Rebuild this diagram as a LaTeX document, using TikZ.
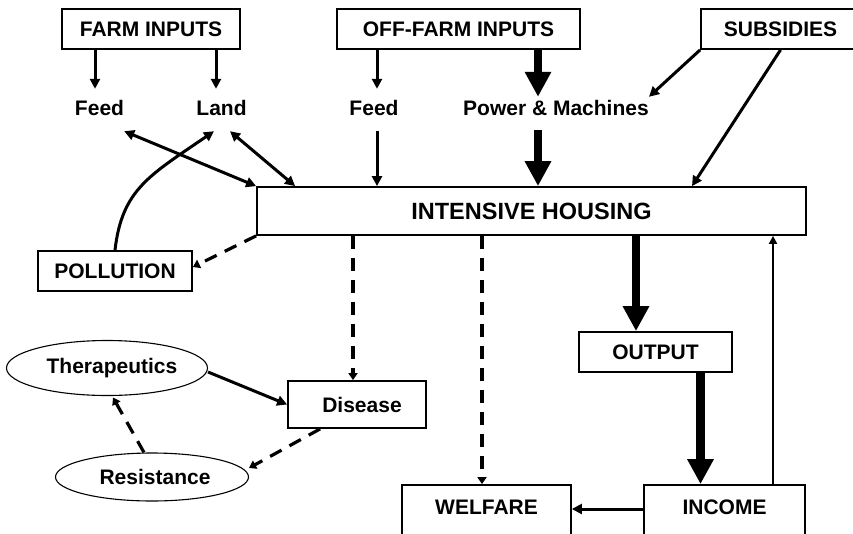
\documentclass[tikz,border=0pt]{standalone}
\usepackage{fontspec}
\setmainfont{Liberation Sans}
\usetikzlibrary{arrows.meta,shapes.geometric}
\begin{document}
\begin{tikzpicture}[x=1pt,y=-1pt,
  tx/.style={font=\fontsize{21}{25}\selectfont\bfseries},
  box/.style={tx,draw,line width=1.8pt,rectangle,inner sep=0pt},
  lbl/.style={tx,inner sep=0pt,text height=26.5pt,text depth=15.5pt},
  lblp/.style={tx,inner sep=0pt,text height=18.5pt,text depth=14.5pt},
  oval/.style={tx,draw,ellipse,line width=1.1pt,inner sep=0pt},
  arr/.style={line width=3pt,-{Triangle[length=10pt,width=10pt]}},
  dbl/.style={line width=3pt,{Triangle[length=10pt,width=10pt]}-{Triangle[length=10pt,width=10pt]}},
  thinarr/.style={line width=2.1pt,-{Triangle[length=8pt,width=8pt]}},
  dasharr/.style={line width=3.2pt,dash pattern=on 13pt off 9pt,-{Triangle[length=7pt,width=9pt]}},
  bigarr/.style={line width=8.5pt,-{Triangle[length=25pt,width=25pt]}},
]
\useasboundingbox (0,0) rectangle (853,533);
\clip (0,0) rectangle (853,533);

% boxes
\node[box,minimum width=178pt,minimum height=40pt] (farm) at (151,29) {FARM INPUTS};
\node[box,minimum width=243pt,minimum height=40pt] (offfarm) at (458.5,29) {OFF-FARM INPUTS};
\node[box,minimum width=159pt,minimum height=40pt] (subs) at (780.5,29) {SUBSIDIES};
\node[box,minimum width=549pt,minimum height=48pt,font=\fontsize{23.5}{27}\selectfont\bfseries] (ih) at (531.5,211) {INTENSIVE HOUSING};
\node[box,minimum width=154pt,minimum height=40pt] (poll) at (115,271) {POLLUTION};
\node[box,minimum width=138pt,minimum height=47pt] (dis) at (357,404.5) {\hspace*{10pt}Disease};
\node[box,minimum width=153pt,minimum height=40pt] (out) at (655.5,352) {OUTPUT};
\node[box,minimum width=169pt,minimum height=52pt,text depth=8pt] (wel) at (486.5,511) {WELFARE};
\node[box,minimum width=161pt,minimum height=52pt,text depth=8pt] (inc) at (724.5,511) {INCOME};

% ellipses
\node[oval,minimum width=201pt,minimum height=55pt] (ther) at (107,368) {\hspace*{10pt}Therapeutics};
\node[oval,minimum width=193pt,minimum height=48pt] (res) at (152,477) {\hspace*{6pt}Resistance};

% labels
\node[lbl] (feedA) at (99.5,110) {Feed};
\node[lbl] (land) at (221.5,110) {Land};
\node[lbl] (feedB) at (374,110) {Feed};
\node[lblp] (pm) at (556,113.5) {Power \& Machines};

% helper coordinates
\coordinate (fA) at ([xshift=-4.5pt]feedA.north);
\coordinate (lA) at ([xshift=-5.5pt]land.north);
\coordinate (fB) at ([xshift=3pt]feedB.north);
\coordinate (fBs) at ([xshift=3pt]feedB.south);
\coordinate (pmN) at ([xshift=-18pt]pm.north);
\coordinate (pmS) at ([xshift=-18pt]pm.south);
\coordinate (subIH) at ([xshift=160.5pt]ih.north);
\coordinate (disT) at ([xshift=-4pt]dis.north);
\coordinate (welT) at ([xshift=-4.5pt]wel.north);
\coordinate (outT) at ([xshift=-19.5pt]out.north);
\coordinate (outB) at ([xshift=45pt]out.south);
\coordinate (incU) at ([xshift=48.5pt]inc.north);

% top arrows
\draw[arr] (farm.south -| fA) -- (fA);
\draw[arr] (farm.south -| lA) -- (lA);
\draw[arr] (offfarm.south -| fB) -- (fB);
\draw[bigarr] (offfarm.south -| pmN) -- (pmN);
\draw[arr] (subs.south west) -- (pm.north east);

% into intensive housing
\draw[dbl] (feedA.south east) -- (ih.north west);
\draw[dbl] ([xshift=8.5pt]land.south) -- ([xshift=39pt]ih.north west);
\draw[arr] (fBs) -- (fBs |- ih.north);
\draw[bigarr] (pmS) -- (pmS |- ih.north);
\draw[arr] (subs.south) -- (subIH);
\draw[arr] (poll.north) .. controls +(7,-61) and +(-64,44) .. ([xshift=-7.5pt]land.south);

% from intensive housing
\draw[dasharr] (ih.south west) -- ([yshift=4pt]poll.east);
\draw[dasharr] (disT |- ih.south) -- (disT);
\draw[dasharr] (welT |- ih.south) -- (welT);
\draw[bigarr] (outT |- ih.south) -- (outT);
\draw[bigarr] (outB) -- (outB |- inc.north);
\draw[thinarr] (incU) -- (incU |- ih.south);
\draw[arr] ([yshift=2pt]inc.west) -- ([yshift=2pt]wel.east);

% disease cycle
\draw[arr] ([yshift=-4pt]ther.east) -- (dis.west);
\draw[dasharr] ([xshift=33pt]dis.south west) -- ([yshift=9pt]res.east);
\draw[dasharr] ([xshift=-8pt]res.north) -- ([xshift=6pt,yshift=-1.5pt]ther.south);
\end{tikzpicture}
\end{document}
